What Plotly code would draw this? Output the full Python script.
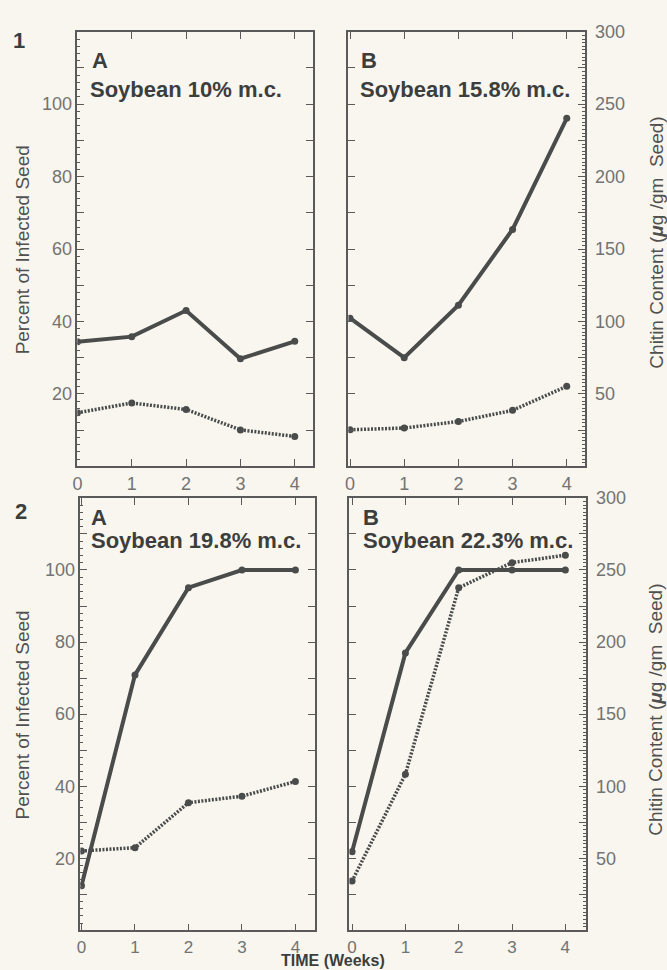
import plotly.graph_objects as go

# ---------------- data ----------------
WEEKS = [0, 1, 2, 3, 4]
X_TICK_LABELS = ["0", "1", "2", "3", "4"]

INFECTED_1A = [34.4, 35.8, 43.0, 29.7, 34.5]
CHITIN_1A = [36.9, 43.7, 39.2, 25.1, 20.6]
INFECTED_1B = [40.9, 30.0, 44.5, 65.4, 96.1]
CHITIN_1B = [25.2, 26.4, 30.9, 38.6, 55.2]
INFECTED_2A = [12.4, 70.9, 95.1, 100.0, 100.0]
CHITIN_2A = [55.1, 57.4, 88.6, 93.1, 103.3]
INFECTED_2B = [21.8, 77.0, 100.0, 100.0, 100.0]
CHITIN_2B = [34.2, 108.3, 237.7, 255.1, 260.3]

PANEL_LETTERS = ["A", "B", "A", "B"]
PANEL_TITLES = ["Soybean 10% m.c.", "Soybean 15.8% m.c.",
                "Soybean 19.8% m.c.", "Soybean 22.3% m.c."]
FIGURE_NUMBERS = ["1", "2"]

PCT_TICKS = [10, 20, 30, 40, 50, 60, 70, 80, 90, 100, 110]
PCT_LABELS = ["", "20", "", "40", "", "60", "", "80", "", "100", ""]
CHITIN_TICKS = [25, 50, 75, 100, 125, 150, 175, 200, 225, 250, 275, 300]
CHITIN_LABELS = ["", "50", "", "100", "", "150", "", "200", "", "250", "", "300"]

# ---------------- style ----------------
W, H = 667, 970
BG = "#f8f6ee"
INK = "#4a4c4c"
AXC = "#5a5a5a"
TXT = "#737373"
TITLE_C = "#3c3e3e"
FONT = "Liberation Sans, Arial, sans-serif"


def px_x(p):
    return p / W


def px_y(p):
    return 1 - p / H


# panel boxes in pixels: (left, right, top, bottom)
BOXES = [(73, 310, 22, 461), (346, 584, 22, 461),
         (76, 312, 493, 930), (347, 585, 493, 930)]
XRANGES = [[0, 4.33], [-0.03, 4.33], [-0.02, 4.36], [-0.05, 4.38]]
INF = [INFECTED_1A, INFECTED_1B, INFECTED_2A, INFECTED_2B]
CHI = [CHITIN_1A, CHITIN_1B, CHITIN_2A, CHITIN_2B]

fig = go.Figure()
layout = {}

for i in range(4):
    l, r, t, b = BOXES[i]
    xn = "" if i == 0 else str(i + 1)
    yp = "" if i == 0 else str(2 * i + 1)
    yc = str(2 * i + 2)
    is_left = i in (0, 2)
    is_bottom = i in (2, 3)

    layout["xaxis" + xn] = dict(
        domain=[px_x(l), px_x(r)], range=XRANGES[i], anchor="y" + yp,
        showline=True, linecolor=AXC, linewidth=1.5, mirror="ticks",
        ticks="inside", ticklen=7, tickwidth=1.2, tickcolor=AXC,
        tickvals=WEEKS, ticktext=X_TICK_LABELS,
        tickfont=dict(family=FONT, size=17 if is_bottom else 18, color=TXT),
        showgrid=False, zeroline=False, fixedrange=True,
    )
    ypct = dict(
        domain=[px_y(b), px_y(t)], range=[0, 120], anchor="x" + xn, side="left",
        showline=True, linecolor=AXC, linewidth=1.5,
        ticks="inside", ticklen=7, tickwidth=1.2, tickcolor=AXC,
        tickvals=PCT_TICKS, ticktext=PCT_LABELS,
        showticklabels=is_left,
        tickfont=dict(family=FONT, size=18, color=TXT),
        showgrid=False, zeroline=False, fixedrange=True,
    )
    if is_left:
        ypct["minor"] = dict(ticks="inside", dtick=2, ticklen=3,
                             tickwidth=1, tickcolor=AXC, showgrid=False)
    layout["yaxis" + yp] = ypct

    ychi = dict(
        range=[0, 300], anchor="x" + xn, overlaying="y" + yp, side="right",
        showline=True, linecolor=AXC, linewidth=1.5,
        ticks="inside", ticklen=7, tickwidth=1.2, tickcolor=AXC,
        tickvals=CHITIN_TICKS, ticktext=CHITIN_LABELS,
        showticklabels=not is_left, ticklabelstandoff=5,
        tickfont=dict(family=FONT, size=18, color=TXT),
        showgrid=False, zeroline=False, fixedrange=True,
    )
    if not is_left:
        ychi["minor"] = dict(ticks="inside", dtick=2.5, ticklen=3,
                             tickwidth=1, tickcolor=AXC, showgrid=False)
    layout["yaxis" + yc] = ychi

    fig.add_trace(go.Scatter(
        x=WEEKS, y=CHI[i], xaxis="x" + xn, yaxis="y" + yc, mode="lines+markers",
        line=dict(color=INK, width=3.5, dash="2px,1.5px"),
        marker=dict(color=INK, size=7), showlegend=False, hoverinfo="skip"))
    fig.add_trace(go.Scatter(
        x=WEEKS, y=INF[i], xaxis="x" + xn, yaxis="y" + yp, mode="lines+markers",
        line=dict(color=INK, width=4),
        marker=dict(color=INK, size=7), showlegend=False, hoverinfo="skip"))

annotations = []
# panel letters and titles
letter_pos = [(86, 51), (357, 51), (85, 513), (359, 513)]
title_pos = [(84, 80), (356, 80), (85, 536), (359, 536)]
for i in range(4):
    annotations.append(dict(
        x=px_x(letter_pos[i][0]), y=px_y(letter_pos[i][1]), xref="paper", yref="paper",
        text="<b>%s</b>" % PANEL_LETTERS[i], showarrow=False, xanchor="left", yanchor="middle",
        font=dict(family=FONT, size=22, color=TITLE_C)))
    annotations.append(dict(
        x=px_x(title_pos[i][0]), y=px_y(title_pos[i][1]), xref="paper", yref="paper",
        text="<b>%s</b>" % PANEL_TITLES[i], showarrow=False, xanchor="left", yanchor="middle",
        font=dict(family=FONT, size=22, color=TITLE_C)))

# figure numbers
for num, (xx, yy) in zip(FIGURE_NUMBERS, [(14, 31), (16, 507)]):
    annotations.append(dict(
        x=px_x(xx), y=px_y(yy), xref="paper", yref="paper", text="<b>%s</b>" % num,
        showarrow=False, xanchor="center", yanchor="middle",
        font=dict(family=FONT, size=22, color=TITLE_C)))

# axis titles
for yy in (242, 712):
    annotations.append(dict(
        x=px_x(18), y=px_y(yy), xref="paper", yref="paper", text="Percent of Infected Seed",
        showarrow=False, textangle=-90, xanchor="center", yanchor="middle",
        font=dict(family=FONT, size=19, color="#505050")))
for yy in (235, 707):
    annotations.append(dict(
        x=px_x(656), y=px_y(yy), xref="paper", yref="paper",
        text="Chitin Content (<i><b>μ</b></i>g /gm&nbsp; Seed)",
        showarrow=False, textangle=-90, xanchor="center", yanchor="middle",
        font=dict(family=FONT, size=19, color="#505050")))

annotations.append(dict(
    x=px_x(330), y=0, xref="paper", yref="paper", text="<b>TIME (Weeks)</b>",
    showarrow=False, xanchor="center", yanchor="bottom", borderpad=0,
    font=dict(family=FONT, size=16, color=TITLE_C)))

fig.update_layout(
    width=W, height=H, margin=dict(l=0, r=0, t=0, b=0),
    paper_bgcolor=BG, plot_bgcolor="rgba(0,0,0,0)",
    annotations=annotations, showlegend=False, **layout)

fig.write_html(
    "out.html", config={"displayModeBar": False},
    post_script="document.body.style.margin='0';document.body.style.overflow='hidden';"
                "document.body.style.background='%s';" % BG)
